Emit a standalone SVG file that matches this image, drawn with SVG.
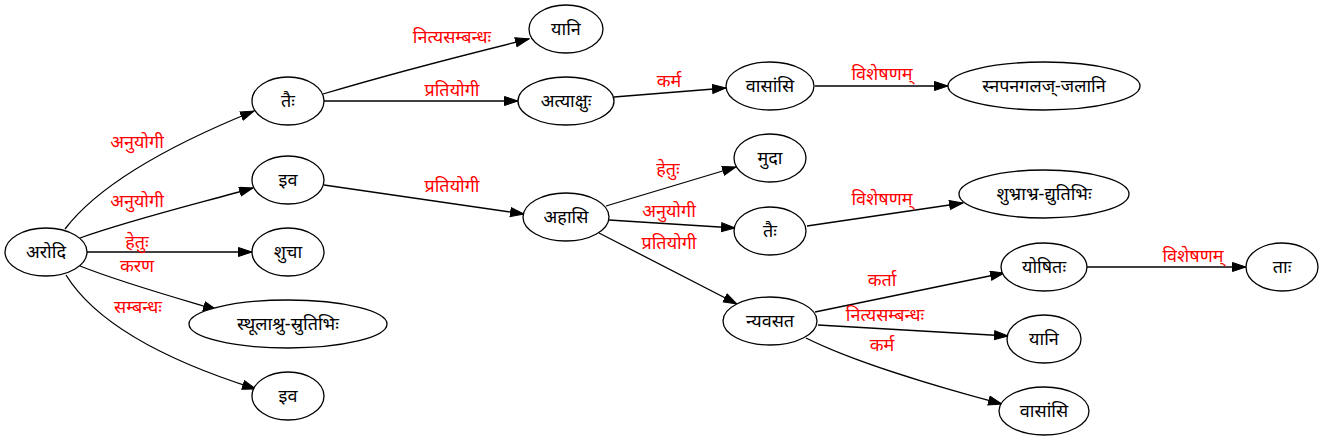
<svg xmlns="http://www.w3.org/2000/svg" width="1323" height="440" viewBox="0 0 1323 440">
<defs>
<style>
.n ellipse{fill:#fff;stroke:#000;stroke-width:1.3}
.n text{font-family:"Noto Sans","Noto Sans Devanagari","DejaVu Sans",sans-serif;font-size:18px;fill:#000;text-anchor:middle}
.e path{fill:none;stroke:#000;stroke-width:1.3;marker-end:url(#ah)}
.l text{font-family:"Noto Sans","Noto Sans Devanagari","DejaVu Sans",sans-serif;font-size:18px;fill:#f00;text-anchor:middle}
</style>
<marker id="ah" markerUnits="userSpaceOnUse" markerWidth="15" markerHeight="11" refX="14" refY="5" orient="auto" viewBox="0 0 15 11">
<path d="M0.5,0.5 L14,5 L0.5,9.5 z" fill="#000" stroke="#000"/>
</marker>
</defs>
<rect width="1323" height="440" fill="#fff"/>
<g id="edges" class="e">
<path d="M65,229 C100,183 175,143 254,111"/>
<path d="M80,238 C130,220 200,203 253,188"/>
<path d="M87,252 L252,252"/>
<path d="M80,266 C120,282 170,296 217,310"/>
<path d="M66,275 C100,330 180,365 256,389"/>
<path d="M323,94 C390,74 460,56 529,39"/>
<path d="M324,101 L518,101"/>
<path d="M324,185 L524,214"/>
<path d="M614,97 L726,88"/>
<path d="M815,86 L948,86"/>
<path d="M606,206 L736,167"/>
<path d="M609,220 L735,228"/>
<path d="M599,233 L737,304"/>
<path d="M807,226 L963,203"/>
<path d="M815,312 L1004,273"/>
<path d="M818,325 L1008,336"/>
<path d="M806,338 C850,360 930,385 1002,404"/>
<path d="M1087,267 L1246,267"/>
</g>
<g id="labels" class="l">
<text x="137" y="148">अनुयोगी</text>
<text x="137" y="207">अनुयोगी</text>
<text x="137" y="248">हेतुः</text>
<text x="137" y="272">करण</text>
<text x="138" y="313">सम्बन्धः</text>
<text x="452" y="43">नित्यसम्बन्धः</text>
<text x="452" y="96">प्रतियोगी</text>
<text x="452" y="192">प्रतियोगी</text>
<text x="669" y="87">कर्म</text>
<text x="668" y="175">हेतुः</text>
<text x="669" y="217">अनुयोगी</text>
<text x="669" y="249">प्रतियोगी</text>
<text x="882" y="80">विशेषणम्</text>
<text x="882" y="205">विशेषणम्</text>
<text x="882" y="286">कर्ता</text>
<text x="885" y="321">नित्यसम्बन्धः</text>
<text x="882" y="351">कर्म</text>
<text x="1193" y="262">विशेषणम्</text>
</g>
<g id="n_arodi" class="n"><ellipse cx="46" cy="252" rx="41" ry="24"/><text x="46" y="258">अरोदि</text></g>
<g id="n_taih1" class="n"><ellipse cx="288" cy="101" rx="36" ry="24"/><text x="288" y="107">तैः</text></g>
<g id="n_iva1" class="n"><ellipse cx="288" cy="180" rx="36" ry="24"/><text x="288" y="186">इव</text></g>
<g id="n_shucha" class="n"><ellipse cx="288" cy="252" rx="36" ry="24"/><text x="288" y="258">शुचा</text></g>
<g id="n_sthula" class="n"><ellipse cx="288" cy="324" rx="99" ry="24"/><text x="288" y="330">स्थूलाश्रु-स्रुतिभिः</text></g>
<g id="n_iva2" class="n"><ellipse cx="288" cy="396" rx="36" ry="24"/><text x="288" y="402">इव</text></g>
<g id="n_yani1" class="n"><ellipse cx="566" cy="29" rx="37" ry="24"/><text x="566" y="35">यानि</text></g>
<g id="n_atyakshuh" class="n"><ellipse cx="566" cy="101" rx="48" ry="24"/><text x="566" y="107">अत्याक्षुः</text></g>
<g id="n_ahasi" class="n"><ellipse cx="566" cy="217" rx="43" ry="24"/><text x="566" y="223">अहासि</text></g>
<g id="n_vasamsi1" class="n"><ellipse cx="770" cy="86" rx="44" ry="24"/><text x="770" y="92">वासांसि</text></g>
<g id="n_muda" class="n"><ellipse cx="770" cy="158" rx="36" ry="24"/><text x="770" y="164">मुदा</text></g>
<g id="n_taih2" class="n"><ellipse cx="770" cy="231" rx="36" ry="24"/><text x="770" y="237">तैः</text></g>
<g id="n_nyavasata" class="n"><ellipse cx="770" cy="321" rx="47" ry="24"/><text x="770" y="327">न्यवसत</text></g>
<g id="n_snapana" class="n"><ellipse cx="1044" cy="86" rx="96" ry="24"/><text x="1044" y="92">स्नपनगलज्-जलानि</text></g>
<g id="n_shubhra" class="n"><ellipse cx="1044" cy="194" rx="85" ry="24"/><text x="1044" y="200">शुभ्राभ्र-द्युतिभिः</text></g>
<g id="n_yoshitah" class="n"><ellipse cx="1044" cy="267" rx="43" ry="24"/><text x="1044" y="273">योषितः</text></g>
<g id="n_yani2" class="n"><ellipse cx="1044" cy="339" rx="37" ry="24"/><text x="1044" y="345">यानि</text></g>
<g id="n_vasamsi2" class="n"><ellipse cx="1044" cy="411" rx="45" ry="24"/><text x="1044" y="417">वासांसि</text></g>
<g id="n_tah" class="n"><ellipse cx="1282" cy="267" rx="36" ry="24"/><text x="1282" y="273">ताः</text></g>
</svg>
